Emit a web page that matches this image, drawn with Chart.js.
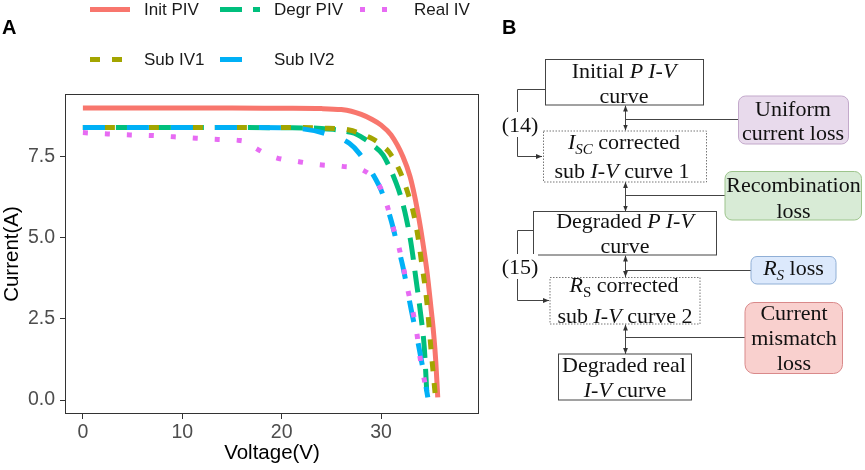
<!DOCTYPE html>
<html>
<head>
<meta charset="utf-8">
<script src="https://cdn.jsdelivr.net/npm/chart.js@4.4.1/dist/chart.umd.min.js"></script>
<style>
  html, body { margin: 0; padding: 0; background: #fff; }
  #stage { position: relative; width: 865px; height: 470px; overflow: hidden; font-family: "Liberation Sans", Arial, sans-serif; }
  #plotBox { position: absolute; left: 0; top: 0; width: 490px; height: 470px; }
  .tag { position: absolute; font-weight: bold; font-size: 20px; line-height: 24px; color: #000; }
  .leg-text { position: absolute; font-size: 17px; line-height: 20px; color: #1a1a1a; white-space: nowrap; }
  #legendKeys, #flow { position: absolute; left: 0; top: 0; }
  .ft { position: absolute; width: 240px; text-align: center; font-family: "Liberation Serif", "Times New Roman", serif;
        font-size: 22px; line-height: 25px; color: #111; white-space: nowrap; }
  .ft .sub { font-size: 15px; position: relative; top: 5px; }
  .ft .bg { background: #fff; }
</style>
</head>
<body>
<div id="stage">
  <div id="plotBox"><canvas id="ivChart"></canvas></div>
  <svg id="legendKeys" width="490" height="80"></svg>
  <div class="tag" style="left:2px; top:15px;">A</div>
  <div class="tag" style="left:502px; top:15px;">B</div>

  <svg id="flow" width="865" height="470">
    <defs>
      <marker id="ah" viewBox="0 0 6 6" refX="6" refY="3" markerWidth="6" markerHeight="6"
              orient="auto-start-reverse" markerUnits="userSpaceOnUse">
        <path d="M0,0.6 L6,3 L0,5.4 z" fill="#333"/>
      </marker>
    </defs>
    <g fill="none" stroke="#444" stroke-width="1">
      <!-- brackets -->
      <polyline points="545,89.5 517.5,89.5 517.5,156.5 542,156.5" marker-end="url(#ah)"/>
      <polyline points="533,230.5 517.5,230.5 517.5,300.5 549,300.5" marker-end="url(#ah)"/>
      <!-- vertical double arrows -->
      <line x1="625.5" y1="105.5" x2="625.5" y2="130.5" marker-start="url(#ah)" marker-end="url(#ah)"/>
      <line x1="625.5" y1="182" x2="625.5" y2="211.5" marker-start="url(#ah)" marker-end="url(#ah)"/>
      <line x1="625.5" y1="255.5" x2="625.5" y2="277" marker-start="url(#ah)" marker-end="url(#ah)"/>
      <line x1="625.5" y1="324.5" x2="625.5" y2="354" marker-start="url(#ah)" marker-end="url(#ah)"/>
      <!-- links to loss boxes -->
      <line x1="625.5" y1="119.5" x2="738.5" y2="119.5"/>
      <line x1="625.5" y1="195.5" x2="725" y2="195.5"/>
      <line x1="625.5" y1="270.5" x2="751" y2="270.5"/>
      <line x1="625.5" y1="337.5" x2="745" y2="337.5"/>
    </g>
    <!-- curve boxes -->
    <g fill="#fff" stroke="#444" stroke-width="1">
      <rect x="545.5" y="59.5" width="158" height="45.5"/>
      <rect x="543.5" y="131" width="163" height="51" stroke="#777" stroke-dasharray="1.5,1.5"/>
      <rect x="533.5" y="211.5" width="183" height="43.5"/>
      <rect x="550" y="277.5" width="150" height="46.5" stroke="#777" stroke-dasharray="1.5,1.5"/>
      <rect x="558.5" y="354" width="133" height="46"/>
    </g>
    <!-- loss boxes -->
    <rect x="738.5" y="96" width="110" height="48" rx="7" fill="#E8DAEC" stroke="#C3A9CB"/>
    <rect x="725" y="171.5" width="136.5" height="48.5" rx="7" fill="#D8EBD6" stroke="#9DC48C"/>
    <rect x="751" y="256.5" width="85" height="27.5" rx="6" fill="#DCE9FC" stroke="#90AFD6"/>
    <rect x="745" y="302.5" width="97.5" height="71" rx="9" fill="#F9D0CE" stroke="#D9898A"/>
  </svg>
  <div id="flowText"></div>
</div>

<script>
// values
const seriesNames = ['Init PIV', 'Degr PIV', 'Real IV', 'Sub IV1', 'Sub IV2'];

const initV = [0, 5, 10, 15, 20, 24, 26, 27, 28, 29, 30, 31, 32.2, 32.9, 33.4, 33.8, 34.2, 34.6, 35.0, 35.3, 35.5, 35.7];
const initI = [9.0, 9.0, 9.0, 9.0, 8.99, 8.98, 8.95, 8.9, 8.8, 8.66, 8.47, 8.17, 7.5, 6.9, 6.25, 5.6, 4.85, 4.0, 2.9, 2.0, 1.2, 0.08];

const degrV = [0, 5, 10, 15, 20, 24, 25.2, 26.3, 27.3, 28.2, 29.2, 30.2, 31.5, 32.0, 32.5, 33.0, 33.5, 34.0, 34.35, 34.62];
const degrI = [8.4, 8.4, 8.4, 8.4, 8.39, 8.37, 8.34, 8.29, 8.22, 8.07, 7.85, 7.55, 6.7, 6.25, 5.65, 4.85, 3.75, 2.6, 1.6, 0.1];

const realV = [0, 2.5, 4.8, 7.0, 9.2, 11.4, 13.6, 15.75, 16.5, 17.5, 19.4, 21.6, 23.8, 26.1, 28.2, 29.8, 30.6, 31.2, 31.8, 32.3, 32.7, 33.2, 33.6, 33.9, 34.3, 34.7];
const realI = [8.24, 8.2, 8.17, 8.15, 8.11, 8.07, 8.03, 8.0, 7.95, 7.74, 7.47, 7.35, 7.25, 7.2, 7.08, 6.62, 6.0, 5.33, 4.7, 4.0, 3.38, 2.72, 2.05, 1.35, 0.7, 0.05];

const sub1V = [0, 5, 10, 15, 20, 24, 26.8, 28.0, 29.2, 30.1, 30.9, 31.9, 32.7, 33.3, 33.7, 34.0, 34.6, 35.0, 35.45];
const sub1I = [8.4, 8.4, 8.4, 8.4, 8.4, 8.38, 8.32, 8.2, 8.04, 7.85, 7.6, 7.04, 6.37, 5.7, 5.05, 4.4, 3.03, 1.64, 0.15];

const sub2V = [0, 5, 10, 15, 20, 22, 24.3, 26.8, 27.8, 29.5, 30.0, 31.0, 31.5, 32.2, 33.05, 33.6, 34.1, 34.7];
const sub2I = [8.4, 8.4, 8.4, 8.4, 8.39, 8.36, 8.22, 7.91, 7.6, 6.78, 6.47, 5.55, 4.95, 4.1, 2.75, 1.95, 1.15, 0.08];

const xTicks = [0, 10, 20, 30];
const yTicks = [0, 2.5, 5, 7.5];
const yTickLabels = ['0.0', '2.5', '5.0', '7.5'];

// styling
const seriesV = [initV, degrV, realV, sub1V, sub2V];
const seriesI = [initI, degrI, realI, sub1I, sub2I];
const colors = ['#F8766D', '#00BF7D', '#E76BF3', '#A3A500', '#00B0F6'];
const dashes = [[], [22, 11], [5, 17], [10, 12], [22, 22]];
const drawOrder = [4, 3, 0, 2, 1];   // lower = drawn on top
const sans = '"Liberation Sans", Arial, sans-serif';

// framed panel like ggplot theme_bw without grid
const panelBorder = {
  id: 'panelBorder',
  afterDraw(chart) {
    const { ctx, chartArea: a } = chart;
    ctx.save();
    ctx.strokeStyle = '#333';
    ctx.lineWidth = 1;
    ctx.strokeRect(a.left + 0.5, a.top + 0.5, a.width - 1, a.height - 1);
    ctx.restore();
  }
};

const chart = new Chart(document.getElementById('ivChart'), {
  type: 'line',
  data: {
    datasets: seriesNames.map((name, k) => ({
      label: name,
      data: seriesV[k].map((v, j) => ({ x: v, y: seriesI[k][j] })),
      borderColor: colors[k],
      borderWidth: 5,
      borderDash: dashes[k],
      pointRadius: 0,
      fill: false,
      cubicInterpolationMode: 'monotone',
      order: drawOrder[k]
    }))
  },
  options: {
    responsive: true,
    maintainAspectRatio: false,
    animation: false,
    layout: { padding: { top: 94, right: 11, left: 0, bottom: 0 } },
    plugins: { legend: { display: false }, tooltip: { enabled: false } },
    scales: {
      x: {
        type: 'linear',
        min: -1.8,
        max: 39.85,
        afterFit: s => { s.height = 56; },
        afterBuildTicks: s => { s.ticks = xTicks.map(v => ({ value: v })); },
        ticks: { color: '#4d4d4d', font: { size: 19.5, family: sans }, padding: 2, maxRotation: 0, autoSkip: false },
        grid: { drawOnChartArea: false, tickLength: 5, color: '#333' },
        border: { display: false },
        title: { display: true, text: 'Voltage(V)', color: '#000', font: { size: 20.5, family: sans }, padding: { top: 0, bottom: 4 } }
      },
      y: {
        type: 'linear',
        min: -0.43,
        max: 9.43,
        afterFit: s => { s.width = 65; },
        afterBuildTicks: s => { s.ticks = yTicks.map(v => ({ value: v })); },
        ticks: {
          color: '#4d4d4d', font: { size: 19.5, family: sans }, padding: 5, autoSkip: false,
          callback: v => yTickLabels[yTicks.indexOf(v)]
        },
        grid: { drawOnChartArea: false, tickLength: 5, color: '#333' },
        border: { display: false },
        title: { display: true, text: 'Current(A)', color: '#000', font: { size: 20.5, family: sans }, padding: { top: 0, bottom: 0 } }
      }
    }
  },
  plugins: [panelBorder]
});

// legend, two rows as in the ggplot output
const legendSlots = [[90, 9.5], [220, 9.5], [360, 9.5], [90, 59.5], [220, 59.5]];
const keySvg = document.getElementById('legendKeys');
const stage = document.getElementById('stage');
seriesNames.forEach((name, k) => {
  const [x, y] = legendSlots[k];
  const ln = document.createElementNS('http://www.w3.org/2000/svg', 'line');
  ln.setAttribute('x1', x);
  ln.setAttribute('x2', x + 40);
  ln.setAttribute('y1', y);
  ln.setAttribute('y2', y);
  ln.setAttribute('stroke', colors[k]);
  ln.setAttribute('stroke-width', 5);
  if (dashes[k].length) ln.setAttribute('stroke-dasharray', dashes[k].join(','));
  keySvg.appendChild(ln);
  const t = document.createElement('div');
  t.className = 'leg-text';
  t.style.left = (x + 54) + 'px';
  t.style.top = (y - 10) + 'px';
  t.textContent = name;
  stage.appendChild(t);
});

// flowchart text, placed by baseline
const flowLines = [
  [624, 77.7, 'Initial <i>P I-V</i>'],
  [624, 103.3, 'curve'],
  [624, 149, '<i>I<span class="sub">SC</span></i> corrected'],
  [622, 178.3, 'sub <i>I-V</i> curve 1'],
  [625, 228.3, 'Degraded <i>P I-V</i>'],
  [625, 253.3, 'curve'],
  [624, 291.7, '<i>R</i><span class="sub">S</span> corrected'],
  [625, 322.7, 'sub <i>I-V</i> curve 2'],
  [624, 371.7, 'Degraded real'],
  [625, 396.7, '<i>I-V</i> curve'],
  [793, 116, 'Uniform'],
  [793, 140, 'current loss'],
  [793.5, 191.7, 'Recombination'],
  [793.5, 218.3, 'loss'],
  [793.5, 275, '<i>R<span class="sub">S</span></i> loss'],
  [794, 320, 'Current'],
  [794, 345, 'mismatch'],
  [794, 370, 'loss'],
  [520, 131.7, '<span class="bg">(14)</span>'],
  [520, 274, '<span class="bg">(15)</span>']
];
const flowText = document.getElementById('flowText');
flowLines.forEach(([cx, base, html]) => {
  const d = document.createElement('div');
  d.className = 'ft';
  d.style.left = (cx - 120) + 'px';
  d.style.top = (base - 19.9) + 'px';
  d.innerHTML = html;
  flowText.appendChild(d);
});
</script>
</body>
</html>
